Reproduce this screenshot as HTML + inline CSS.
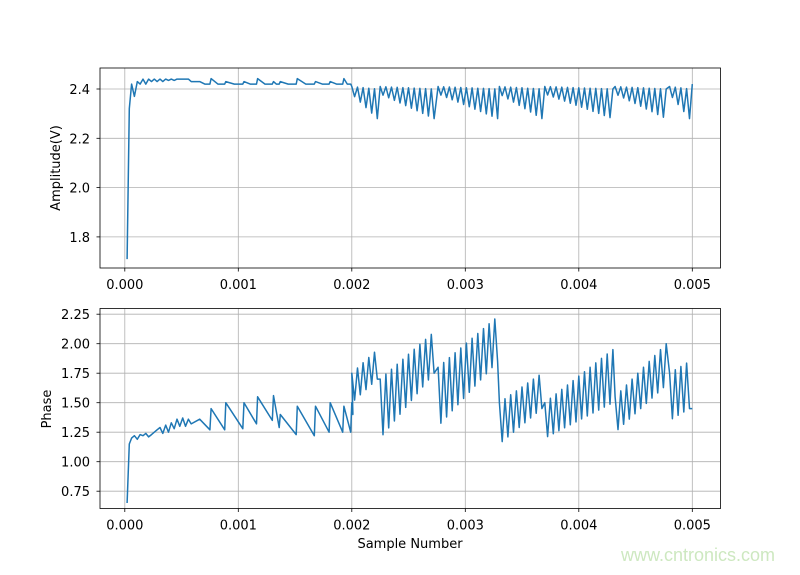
<!DOCTYPE html>
<html><head><meta charset="utf-8"><style>
body{margin:0;background:#fff}
svg text{font-family:"DejaVu Sans","Liberation Sans",sans-serif;font-size:13px;fill:#000}
</style></head><body>
<svg id="s" width="800" height="570" xmlns="http://www.w3.org/2000/svg">
<rect width="800" height="570" fill="#fff"/>
<g id="grid" stroke="#b0b0b0" stroke-width="0.8"></g>
<polyline id="a" fill="none" stroke="#1f77b4" stroke-width="1.5" stroke-linejoin="round"/>
<polyline id="p" fill="none" stroke="#1f77b4" stroke-width="1.5" stroke-linejoin="round"/>
<rect x="100" y="68" width="620.5" height="200" fill="none" stroke="#000" stroke-width="0.8"/>
<rect x="100" y="308.5" width="620.5" height="200" fill="none" stroke="#000" stroke-width="0.8"/>
<g id="lab"></g>
<text x="60" y="168" text-anchor="middle" transform="rotate(-90 60 168)">Amplitude(V)</text>
<text x="51" y="409" text-anchor="middle" transform="rotate(-90 51 409)">Phase</text>
<text x="410" y="548" text-anchor="middle">Sample Number</text>
<text x="698" y="561" text-anchor="middle" style="font-size:18px;fill:#cde8c0;font-family:'Liberation Sans',sans-serif">www.cntronics.com</text>
</svg>
<script>
var NS="http://www.w3.org/2000/svg";
function X(x){return 124.8+x*113500;}
function YA(v){return 89-(v-2.4)*246.5;}
function YP(v){return 314.2-(v-2.25)*118;}
var g=document.getElementById('grid'),lab=document.getElementById('lab');
function el(t,at,par,txt){var e=document.createElementNS(NS,t);for(var k in at)e.setAttribute(k,at[k]);if(txt)e.textContent=txt;par.appendChild(e);}
var xt=["0.000","0.001","0.002","0.003","0.004","0.005"];
for(var i=0;i<6;i++){var px=X(i*0.001);
 el('line',{x1:px,x2:px,y1:68,y2:268},g);el('line',{x1:px,x2:px,y1:308.5,y2:508.5},g);
 el('line',{x1:px,x2:px,y1:268,y2:271.5,stroke:'#000','stroke-width':0.8},lab);
 el('line',{x1:px,x2:px,y1:508.5,y2:512,stroke:'#000','stroke-width':0.8},lab);
 el('text',{x:px,y:289,'text-anchor':'middle'},lab,xt[i]);el('text',{x:px,y:529.5,'text-anchor':'middle'},lab,xt[i]);}
[2.4,2.2,2.0,1.8].forEach(function(v){var py=YA(v);el('line',{x1:100,x2:720,y1:py,y2:py},g);
 el('line',{x1:96.5,x2:100,y1:py,y2:py,stroke:'#000','stroke-width':0.8},lab);
 el('text',{x:90,y:py+5,'text-anchor':'end'},lab,v.toFixed(1));});
[2.25,2,1.75,1.5,1.25,1,0.75].forEach(function(v){var py=YP(v);el('line',{x1:100,x2:720,y1:py,y2:py},g);
 el('line',{x1:96.5,x2:100,y1:py,y2:py,stroke:'#000','stroke-width':0.8},lab);
 el('text',{x:90,y:py+5,'text-anchor':'end'},lab,v.toFixed(2));});
var A=[],P=[];
A.push([0.00002,1.71]);P.push([0.00002,0.65]);
A.push([0.00004,2.32]);P.push([0.00004,1.15]);
var dt=0.000025;
var ep=[1.2,1.22,1.19,1.23,1.22,1.24,1.21,1.23,1.25,1.27,1.29,1.24,1.31,1.25,1.33,1.28,1.36,1.3,1.37,1.3,1.36,1.32];
var ea=[2.42,2.37,2.43,2.42,2.44,2.42,2.44,2.43,2.44,2.43,2.44,2.43,2.44,2.435,2.44,2.435,2.44,2.44,2.44,2.44,2.44,2.43];
var x=0.00006;
for(var i=0;i<ep.length;i++){P.push([x,ep[i]]);A.push([x,ea[i]]);x+=dt;}
var teeth=[[0.00066,1.36,1.27],[0.00076,1.45,1.27],[0.00089,1.5,1.28],[0.00105,1.5,1.32],[0.00117,1.55,1.35],[0.00131,1.56,1.29],[0.00137,1.4,1.23],[0.00152,1.47,1.22],[0.00168,1.47,1.25],[0.00181,1.5,1.25],[0.00193,1.47,1.25]];
for(var t=0;t<teeth.length;t++){var T=teeth[t],nx=(t+1<teeth.length?teeth[t+1][0]:0.002)-0.00001;
 P.push([T[0],T[1]]);P.push([nx,T[2]]);
 A.push([T[0],2.43+(t%3==1?0.012:0)]);A.push([(T[0]+nx)/2,2.42]);A.push([nx,2.42]);}
P.push([0.002,1.5]);P.push([0.00201,1.4]);A.push([0.002,2.41]);
var segs=[[0.002,0.00225,1.75,1.95,1.5,1.7],[0.00225,0.00276,1.7,2.1,1.2,1.75],[0.00276,0.0033,1.8,2.23,1.3,1.85],[0.0033,0.0037,1.5,1.75,1.15,1.45],[0.0037,0.00432,1.5,1.95,1.2,1.5],[0.00432,0.0048,1.55,2.0,1.25,1.65],[0.0048,0.005,1.75,1.85,1.35,1.45]];
segs.forEach(function(s){var n=Math.round((s[1]-s[0])/dt);
 for(var k=0;k<n;k++){var f=k/Math.max(1,n-1),xx=s[0]+k*dt;var hi=(k%2==0);
  P.push([xx,hi?s[2]+(s[3]-s[2])*f:s[4]+(s[5]-s[4])*f]);
  A.push([xx,hi?2.41-0.01*f:2.38-0.1*f]);}});
P.push([0.005,1.45]);A.push([0.005,2.42]);
document.getElementById('a').setAttribute('points',A.map(function(p){return X(p[0]).toFixed(1)+','+YA(p[1]).toFixed(1)}).join(' '));
document.getElementById('p').setAttribute('points',P.map(function(p){return X(p[0]).toFixed(1)+','+YP(p[1]).toFixed(1)}).join(' '));
</script>
</body></html>
